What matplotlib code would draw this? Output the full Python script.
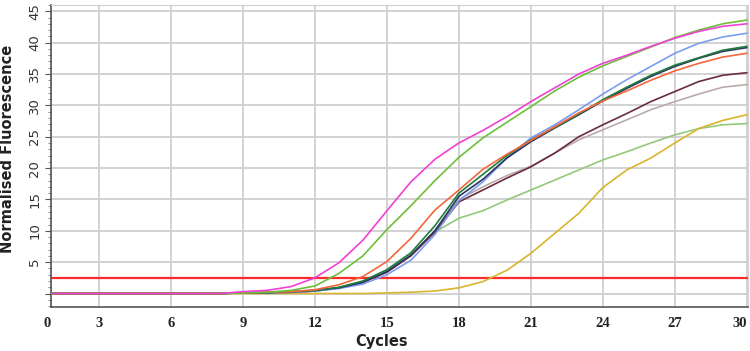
import numpy as np
import matplotlib.pyplot as plt
from matplotlib.ticker import MultipleLocator

# cycle numbers and normalised fluorescence
cycles = list(range(1, 31))
z8 = [0.0] * 8

magenta = z8 + [0.3, 0.5, 1.1, 2.5, 4.9, 8.5, 13.2, 17.8, 21.4, 24.0, 26.0, 28.2,
                30.6, 32.8, 35.0, 36.7, 38.0, 39.4, 40.7, 41.8, 42.6, 43.0]
green = z8 + [0.1, 0.2, 0.5, 1.2, 3.2, 6.0, 10.2, 14.0, 18.0, 21.7, 24.8, 27.3,
              29.8, 32.3, 34.5, 36.3, 37.8, 39.3, 40.8, 42.0, 43.0, 43.6]
orange = z8 + [0.1, 0.2, 0.3, 0.6, 1.4, 2.7, 5.1, 8.8, 13.3, 16.5, 19.8, 22.2,
               24.4, 26.6, 28.8, 30.7, 32.3, 34.0, 35.5, 36.7, 37.7, 38.3]
dark_green = z8 + [0.1, 0.15, 0.3, 0.5, 1.0, 2.0, 3.8, 6.5, 10.8, 16.0, 19.0, 22.0,
                   24.5, 26.5, 28.6, 30.9, 32.9, 34.8, 36.4, 37.6, 38.8, 39.4]
navy = z8 + [0.1, 0.15, 0.3, 0.5, 0.9, 1.8, 3.5, 6.1, 10.0, 15.5, 18.2, 21.6,
             24.2, 26.4, 28.5, 30.7, 32.7, 34.6, 36.2, 37.5, 38.6, 39.2]
blue = z8 + [0.1, 0.1, 0.2, 0.4, 0.8, 1.5, 3.0, 5.3, 9.4, 14.8, 17.8, 21.6,
             24.8, 26.9, 29.3, 31.8, 34.1, 36.2, 38.3, 39.9, 40.9, 41.5]
brown = z8 + [0.1, 0.1, 0.2, 0.4, 0.9, 1.8, 3.4, 6.0, 9.8, 14.6, 16.5, 18.4,
              20.2, 22.4, 25.0, 26.9, 28.7, 30.6, 32.2, 33.8, 34.8, 35.2]
grey = z8 + [0.1, 0.1, 0.2, 0.4, 0.9, 1.8, 3.5, 6.1, 10.0, 15.0, 17.0, 18.8,
             20.3, 22.4, 24.5, 26.1, 27.7, 29.3, 30.6, 31.8, 32.9, 33.3]
light_green = z8 + [0.1, 0.1, 0.2, 0.4, 0.9, 1.8, 3.5, 6.2, 9.8, 12.0, 13.2, 14.9,
                    16.5, 18.1, 19.7, 21.3, 22.6, 24.0, 25.3, 26.3, 26.9, 27.1]
yellow = [0.0] * 14 + [0.1, 0.2, 0.4, 0.9, 1.9, 3.7, 6.4, 9.6, 12.8, 16.9,
                       19.7, 21.6, 24.0, 26.3, 27.6, 28.5]
threshold = 2.5

x_ticks = [1, 3, 6, 9, 12, 15, 18, 21, 24, 27, 30]
x_labels = ['0', '3', '6', '9', '12', '15', '18', '21', '24', '27', '30']
y_ticks = [5, 10, 15, 20, 25, 30, 35, 40, 45]

curves = [
    (light_green, '#92c97a'),
    (grey, '#bca9a9'),
    (yellow, '#d8b52c'),
    (brown, '#6a2c3e'),
    (blue, '#7b9cf0'),
    (navy, '#2b3560'),
    (dark_green, '#1f7c3e'),
    (orange, '#f4673c'),
    (green, '#6cbf3a'),
    (magenta, '#f23fd4'),
]

fig = plt.figure(figsize=(7.5, 3.51), dpi=100)
ax = fig.add_axes([51 / 750, 44 / 351, 697 / 750, 302 / 351])

ax.axhline(threshold, color='#ff2a2a', lw=1.6, zorder=2)
for ys, c in curves:
    ax.plot(cycles, ys, color=c, lw=1.2, zorder=3)

ax.set_xlim(1, 30.05)
ax.set_ylim(-2.15, 46.0)
ax.set_xticks(x_ticks)
ax.set_xticklabels(x_labels, fontfamily='Liberation Serif', fontweight='bold',
                   fontsize=10.5, color='#222222')
xt = ax.get_xticklabels()
xt[0].set_ha('right')
xt[-1].set_ha('right')
ax.set_yticks([0] + y_ticks)
ax.set_yticklabels([''] + [str(v) for v in y_ticks], rotation=90, va='center',
                   fontsize=9.5, color='#333333')
ax.yaxis.set_minor_locator(MultipleLocator(1))
ax.tick_params(axis='y', which='major', length=4, color='#555555', pad=3)
ax.tick_params(axis='y', which='minor', length=2, color='#777777')
ax.tick_params(axis='x', length=0, pad=7)

ax.grid(True, which='major', color='#cfcfcf', lw=1.3, zorder=0)
ax.set_axisbelow(True)
for side in ['left', 'bottom']:
    ax.spines[side].set_color('#555555')
    ax.spines[side].set_linewidth(1.2)
for side in ['top', 'right']:
    ax.spines[side].set_color('#d0d0d0')

ax.set_xlabel('Cycles', fontweight='bold', fontsize=10.5, color='#222222')
ax.xaxis.set_label_coords((382 - 51) / 697, -0.09)
ax.set_ylabel('Normalised Fluorescence', fontweight='bold', fontsize=10.5,
              color='#222222')
ax.yaxis.set_label_coords(-0.052, 0.523)

fig.savefig('out.png', dpi=100)
